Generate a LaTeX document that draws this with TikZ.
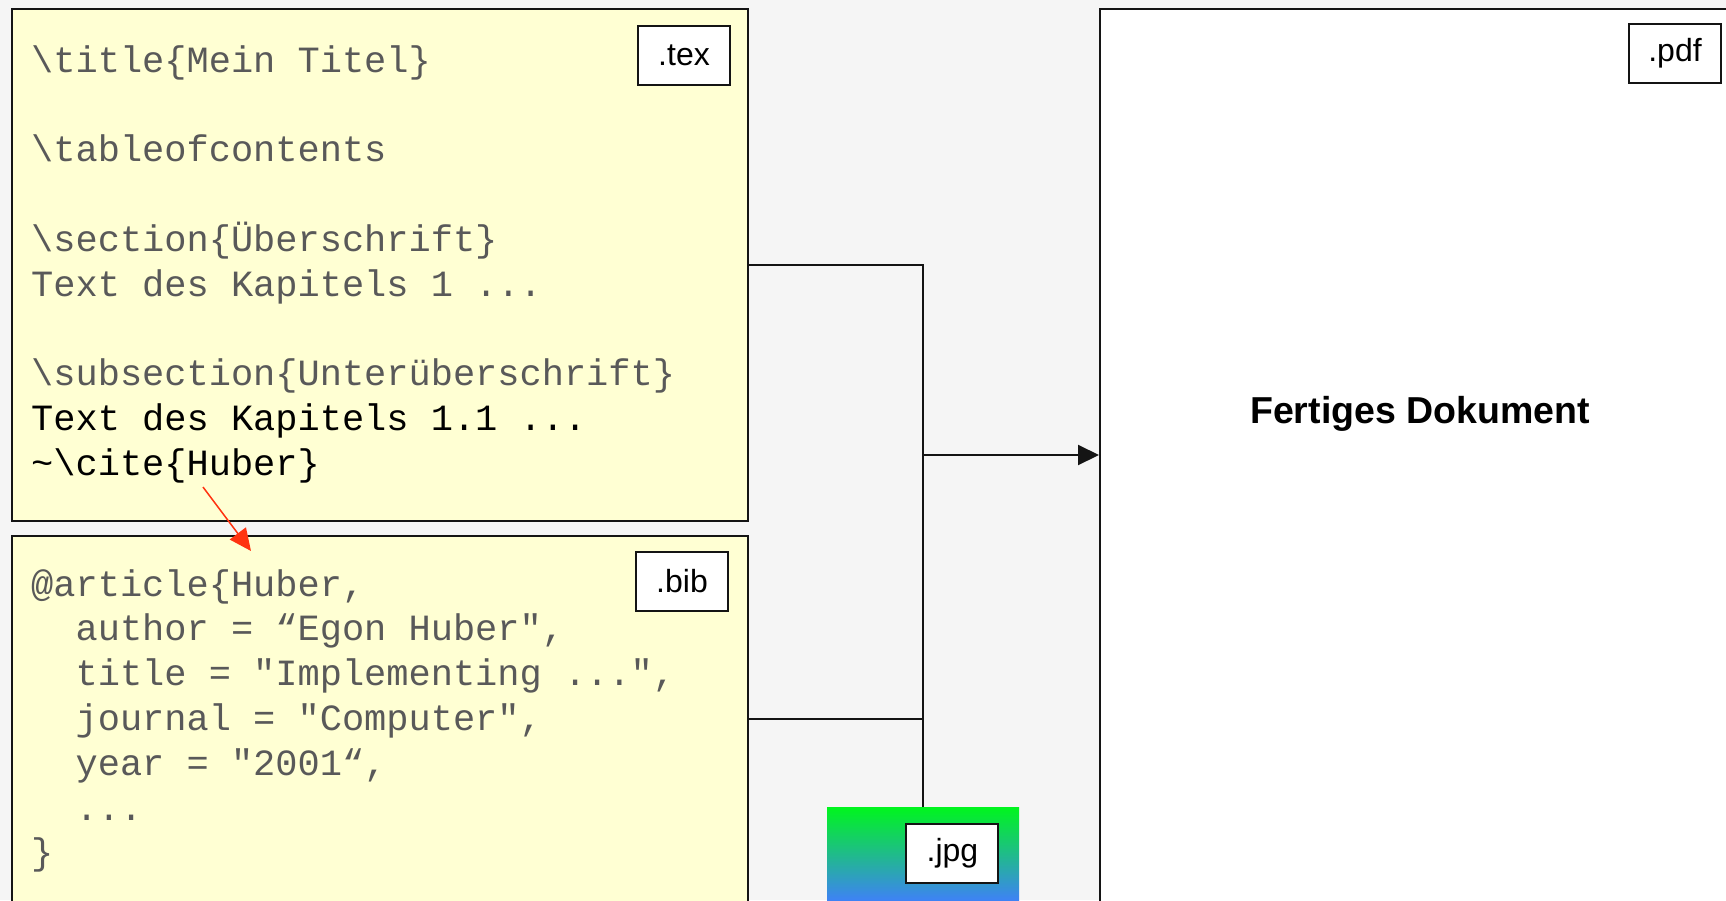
\documentclass[tikz,border=0pt]{standalone}
\usepackage{fontspec}
\usetikzlibrary{positioning,arrows.meta}

\newfontfamily\codefont{Liberation Mono}
\newfontfamily\tagfont{Liberation Sans}

\definecolor{paper}{RGB}{245,245,245}
\definecolor{note}{RGB}{255,255,211}
\definecolor{codegray}{RGB}{89,89,89}
\definecolor{edge}{RGB}{20,20,20}
\definecolor{citered}{RGB}{255,51,17}
\definecolor{jpggreen}{RGB}{0,245,30}
\definecolor{jpgteal}{RGB}{20,205,175}
\definecolor{jpgblue}{RGB}{62,130,245}

\begin{document}
\begin{tikzpicture}[
    x=1pt, y=-1pt,
    srcbox/.style={draw=edge, line width=2pt, fill=note, anchor=north west, inner sep=0pt},
    tag/.style={draw=edge, line width=2pt, fill=white, minimum width=92pt, minimum height=59pt,
        inner sep=0pt, font=\tagfont\fontsize{32}{38}\selectfont},
    code/.style={anchor=base west, inner sep=0pt, text=codegray, font=\codefont\fontsize{37}{44.8}\selectfont},
    wire/.style={draw=edge, line width=2pt},
]

% Line step of the code listings
\def\ls{44.8}

\useasboundingbox (0,0) rectangle (1726,900);
\fill[paper] (0,0) rectangle (1726,900);

% Source files and result
\node[srcbox, minimum width=736pt, minimum height=511.5pt] (tex) at (11,8) {};
\node[srcbox, minimum width=736pt, minimum height=366pt] (bib) at (11,535) {};
\node[srcbox, fill=white, minimum width=642pt, minimum height=900pt] (pdf) at (1099,8) {};

% Picture file
\node[anchor=north west, minimum width=192pt, minimum height=93pt, inner sep=0pt,
    top color=jpggreen, middle color=jpgteal, bottom color=jpgblue] (jpg) at (827,807) {};

% Connectors into the result
\draw[wire] (tex.east) -| (jpg.north);
\draw[wire] (bib.east) -- (bib.east -| jpg.north);
\coordinate (hub) at (jpg.north |- 0,455);
\draw[wire, -{Triangle[length=21pt,width=20pt]}] (hub) -- (hub -| pdf.west);

% File type tags
\node[tag, below left=17pt and 18pt of tex.north east] (textag) {.tex};
\node[tag, below left=16pt and 20pt of bib.north east] (bibtag) {.bib};
\node[tag, below left=15pt and 21pt of pdf.north east] (pdftag) {.pdf};
\node[tag, below left=16pt and 20pt of jpg.north east] (jpgtag) {.jpg};

% .tex listing
\node[code] (texline1) at (31, 72.3) {\textbackslash title\{Mein Titel\}};
\node[code] (texline3) at (31, 72.3+2*\ls) {\textbackslash tableofcontents};
\node[code] (texline5) at (31, 72.3+4*\ls) {\textbackslash section\{Überschrift\}};
\node[code] (texline6) at (31, 72.3+5*\ls) {Text des Kapitels 1 ...};
\node[code] (texline8) at (31, 72.3+7*\ls) {\textbackslash subsection\{Unterüberschrift\}};
\node[code, text=black] (texline9) at (31, 72.3+8*\ls) {Text des Kapitels 1.1 ...};
\node[code, text=black] (texline10) at (31, 72.3+9*\ls) {\textasciitilde\textbackslash cite\{Huber\}};

% .bib listing
\node[code] (bibline1) at (31, 596) {@article\{Huber,};
\node[code] (bibline2) at (31, 596+1*\ls) {\ \ author = “Egon Huber",};
\node[code] (bibline3) at (31, 596+2*\ls) {\ \ title = "Implementing ...",};
\node[code] (bibline4) at (31, 596+3*\ls) {\ \ journal = "Computer",};
\node[code] (bibline5) at (31, 596+4*\ls) {\ \ year = "2001“,};
\node[code] (bibline6) at (31, 596+5*\ls) {\ \ ...};
\node[code] (bibline7) at (31, 596+6*\ls) {\}};

% Result label
\node[font=\tagfont\bfseries\fontsize{37.5}{44}\selectfont, anchor=base] (result) at (1420,423) {Fertiges Dokument};

% Citation points into the bibliography
\coordinate (citept) at (203,487);
\coordinate (bibpt) at (251,551);
\draw[citered, line width=1.5pt, -{Triangle[length=22pt,width=20pt]}] (citept) -- (bibpt);

\end{tikzpicture}
\end{document}
